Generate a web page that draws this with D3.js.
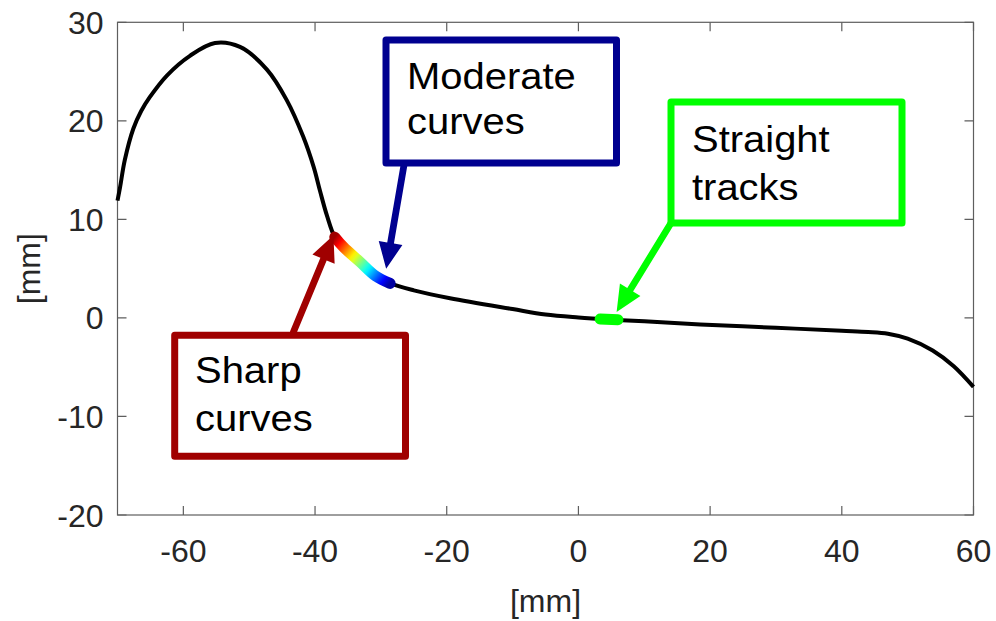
<!DOCTYPE html>
<html>
<head>
<meta charset="utf-8">
<script src="https://cdn.jsdelivr.net/npm/d3@7"></script>
<style>
  body { margin: 0; background: #fff; }
  text { font-family: "Liberation Sans", Arial, Helvetica, sans-serif; }
</style>
</head>
<body>
<svg width="996" height="621"></svg>
<script>
// track profile
var curveX = [-70, -69.6, -68.9, -67.6, -66.4, -65.1, -62.5, -59, -55.2, -51.4, -47.3, -44.3, -41.8, -40.2, -39.25, -38.2,
              -37, -35.7, -33.2, -30.8, -28.6, -25, -19.5, -10, -5, 0, 5, 10, 18.5, 30, 40, 44, 47, 50, 53.8, 57, 60];
var curveY = [11.9, 13.3, 16.0, 19.2, 21.0, 22.4, 24.6, 26.6, 27.9, 27.5, 25.2, 22.1, 18.4, 15.3, 12.9, 10.4,
              8.2, 7.2, 5.7, 4.25, 3.5, 2.8, 2.0, 0.9, 0.35, 0.05, -0.17, -0.35, -0.66, -1.0, -1.3, -1.42, -1.6, -2.1, -3.3, -4.9, -7.0];

// highlighted segments
var sharpX = [-37, -35.7, -33.2, -30.8, -28.6];
var sharpY = [8.2, 7.2, 5.7, 4.25, 3.5];
var straightX = [3.3, 6.0];
var straightY = [-0.12, -0.19];

var xTicks = [-60, -40, -20, 0, 20, 40, 60];
var yTicks = [-20, -10, 0, 10, 20, 30];

// annotation labels and where their arrows point (data units)
var noteLines = [["Sharp", "curves"], ["Moderate", "curves"], ["Straight", "tracks"]];
var noteTipX = [-37.2, -29.2, 5.8];
var noteTipY = [8.4, 5.0, 0.6];

var svg = d3.select("svg"),
    margin = {top: 22.3, right: 22.5, bottom: 106, left: 117.5},
    width = +svg.attr("width") - margin.left - margin.right,
    height = +svg.attr("height") - margin.top - margin.bottom,
    g = svg.append("g").attr("transform", "translate(" + margin.left + "," + margin.top + ")");

var x = d3.scaleLinear().domain([-70, 60]).range([0, width]);
var y = d3.scaleLinear().domain([-20, 30]).range([height, 0]);

var axisColor = "#5e5e5e", textColor = "#262626";

// box
g.append("rect")
  .attr("width", width).attr("height", height)
  .attr("fill", "none").attr("stroke", axisColor).attr("stroke-width", 1.2);

// inward ticks on all four sides
g.selectAll(".xt").data(xTicks).enter().append("path")
  .attr("stroke", axisColor).attr("stroke-width", 1.2)
  .attr("d", function(d) { return "M" + x(d) + "," + height + "v-9M" + x(d) + ",0v9"; });
g.selectAll(".yt").data(yTicks).enter().append("path")
  .attr("stroke", axisColor).attr("stroke-width", 1.2)
  .attr("d", function(d) { return "M0," + y(d) + "h9M" + width + "," + y(d) + "h-9"; });

g.selectAll(".xl").data(xTicks).enter().append("text")
  .attr("x", function(d) { return x(d); })
  .attr("y", height + 47)
  .attr("text-anchor", "middle")
  .attr("font-size", 32).attr("fill", textColor)
  .text(function(d) { return d; });
g.selectAll(".yl").data(yTicks).enter().append("text")
  .attr("x", -14)
  .attr("y", function(d) { return y(d); })
  .attr("dy", "0.36em")
  .attr("text-anchor", "end")
  .attr("font-size", 32).attr("fill", textColor)
  .text(function(d) { return d; });

g.append("text")
  .attr("x", width / 2).attr("y", height + 97)
  .attr("text-anchor", "middle")
  .attr("font-size", 32).attr("fill", textColor)
  .text("[mm]");
g.append("text")
  .attr("transform", "translate(-78," + (height / 2) + ") rotate(-90)")
  .attr("text-anchor", "middle")
  .attr("font-size", 32).attr("fill", textColor)
  .text("[mm]");

// main curve
var line = d3.line()
  .x(function(d) { return x(d[0]); })
  .y(function(d) { return y(d[1]); })
  .curve(d3.curveCatmullRom.alpha(0.5));

g.append("path")
  .datum(d3.zip(curveX, curveY))
  .attr("fill", "none").attr("stroke", "#000").attr("stroke-width", 4)
  .attr("stroke-linejoin", "round")
  .attr("d", line);

// jet colour ramp for the sharp-curve segment
function jet(t) {
  function c(v) { return Math.round(255 * Math.max(0, Math.min(1, v))); }
  return d3.rgb(c(1.5 - Math.abs(4 * t - 3)), c(1.5 - Math.abs(4 * t - 2)), c(1.5 - Math.abs(4 * t - 1))).toString();
}
var grad = svg.append("defs").append("linearGradient")
  .attr("id", "jet").attr("gradientUnits", "userSpaceOnUse")
  .attr("x1", x(sharpX[0])).attr("y1", y(sharpY[0]))
  .attr("x2", x(sharpX[sharpX.length - 1])).attr("y2", y(sharpY[sharpY.length - 1]));
grad.selectAll("stop").data(d3.range(0, 1.001, 0.05)).enter().append("stop")
  .attr("offset", function(d) { return d; })
  .attr("stop-color", function(d) { return jet(0.97 - 0.94 * d); });

g.append("path")
  .datum(d3.zip(sharpX, sharpY))
  .attr("fill", "none").attr("stroke", "url(#jet)")
  .attr("stroke-width", 11).attr("stroke-linecap", "round")
  .attr("d", line);

g.append("path")
  .datum(d3.zip(straightX, straightY))
  .attr("fill", "none").attr("stroke", "#00ff00")
  .attr("stroke-width", 11).attr("stroke-linecap", "round")
  .attr("d", line);

// annotations (box layout in page pixels)
var notes = [
  {box: [174.7, 335.3, 405.5, 456.3], color: "#a00000", tail: [293, 333], tx: 195, ty: 383, lh: 48},
  {box: [386, 40, 616.5, 163], color: "#000090", tail: [404, 165], tx: 407, ty: 89, lh: 45},
  {box: [671, 102, 902, 223], color: "#00ff00", tail: [671, 223], tx: 692, ty: 152, lh: 48}
];

var ann = svg.append("g");
notes.forEach(function(n, i) {
  var tip = [margin.left + x(noteTipX[i]), margin.top + y(noteTipY[i])];
  var dx = tip[0] - n.tail[0], dy = tip[1] - n.tail[1];
  var len = Math.sqrt(dx * dx + dy * dy), ux = dx / len, uy = dy / len;
  var hl = 26, hw = 12, sw = 3.4;
  var bx = tip[0] - ux * hl, by = tip[1] - uy * hl;
  var pts = [
    [n.tail[0] - uy * sw, n.tail[1] + ux * sw],
    [bx - uy * sw, by + ux * sw],
    [bx - uy * hw, by + ux * hw],
    tip,
    [bx + uy * hw, by - ux * hw],
    [bx + uy * sw, by - ux * sw],
    [n.tail[0] + uy * sw, n.tail[1] - ux * sw]
  ];
  ann.append("path")
    .attr("d", "M" + pts.join("L") + "Z")
    .attr("fill", n.color);

  ann.append("rect")
    .attr("x", n.box[0]).attr("y", n.box[1])
    .attr("width", n.box[2] - n.box[0]).attr("height", n.box[3] - n.box[1])
    .attr("fill", "#fff").attr("stroke", n.color)
    .attr("stroke-width", 7).attr("stroke-linejoin", "round");

  noteLines[i].forEach(function(s, j) {
    ann.append("text")
      .attr("transform", "translate(" + n.tx + "," + (n.ty + j * n.lh) + ") scale(1.08,1)")
      .attr("font-size", 37).attr("fill", "#000")
      .text(s);
  });
});
</script>
</body>
</html>
